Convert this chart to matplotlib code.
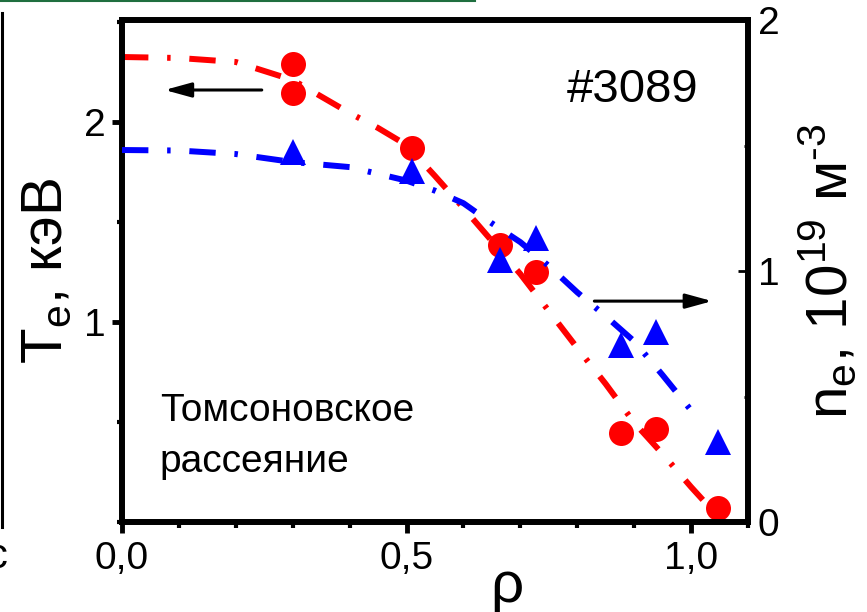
import matplotlib
matplotlib.use("Agg")
import matplotlib.pyplot as plt
from matplotlib.ticker import FixedLocator, FixedFormatter, MultipleLocator
from matplotlib.lines import Line2D

plt.rcParams['font.family'] = ['Liberation Sans', 'DejaVu Sans']
plt.rcParams['mathtext.fontset'] = 'custom'
plt.rcParams['mathtext.rm'] = 'Liberation Sans'
plt.rcParams['mathtext.it'] = 'Liberation Sans:italic'
plt.rcParams['mathtext.bf'] = 'Liberation Sans:bold'
plt.rcParams['lines.scale_dashes'] = False

# Thomson scattering, shot #3089: electron temperature (keV)
rho_te = [0.30, 0.30, 0.51, 0.665, 0.728, 0.877, 0.938, 1.047]
te_vals = [2.29, 2.145, 1.87, 1.385, 1.25, 0.445, 0.465, 0.07]

# electron density (10^19 m^-3)
rho_ne = [0.30, 0.51, 0.665, 0.728, 0.877, 0.938, 1.047]
ne_vals = [1.474, 1.40, 1.044, 1.13, 0.705, 0.757, 0.32]

# fitted profiles
rho_te_fit = [0.0, 0.1, 0.2, 0.3, 0.4, 0.45, 0.5, 0.55, 0.6, 0.65, 0.7,
              0.75, 0.8, 0.85, 0.9, 0.95, 1.0, 1.04]
te_fit = [2.325, 2.32, 2.30, 2.21, 2.045, 1.97, 1.885, 1.73, 1.57, 1.405,
          1.24, 1.055, 0.87, 0.69, 0.497, 0.34, 0.175, 0.05]

rho_ne_fit = [0.0, 0.1, 0.2, 0.3, 0.4, 0.5, 0.55, 0.6, 0.65, 0.7, 0.75,
              0.8, 0.85, 0.9, 0.95, 1.0]
ne_fit = [1.482, 1.48, 1.466, 1.434, 1.414, 1.36, 1.32, 1.27, 1.19, 1.115,
          1.02, 0.915, 0.82, 0.72, 0.585, 0.445]

x_ticks = [0.0, 0.5, 1.0]
x_tick_labels = ['0,0', '0,5', '1,0']
te_ticks = [1, 2]
te_tick_labels = ['1', '2']
ne_ticks = [0, 1, 2]
ne_tick_labels = ['0', '1', '2']

method_lines = ['Томсоновское', 'рассеяние']

RED = '#ff0000'
BLUE = '#0000ff'
DASHDOT = (0, (19, 13.5, 2.5, 13.5))

fig = plt.figure(figsize=(8.67, 6.12), dpi=100)
ax = fig.add_axes([122 / 867, 1 - 522 / 612, 626 / 867, 502 / 612])
ax2 = ax.twinx()

# temperature profile (left axis)
ax.plot(rho_te_fit, te_fit, color=RED, lw=4.3, linestyle=DASHDOT,
        dash_capstyle='butt')
ax.plot(rho_te, te_vals, linestyle='none', marker='o', ms=18,
        mfc=RED, mec=RED, mew=0)

# density profile (right axis)
ax2.plot(rho_ne_fit, ne_fit, color=BLUE, lw=4.3, linestyle=DASHDOT,
         dash_capstyle='butt')
ax2.plot(rho_ne, ne_vals, linestyle='none', marker='^', ms=19,
         mfc=BLUE, mec=BLUE, mew=0)

ax.set_xlim(0, 1.1)
ax.set_ylim(0, 2.51)
ax2.set_ylim(0, 2.0)

ax.xaxis.set_major_locator(FixedLocator(x_ticks))
ax.xaxis.set_major_formatter(FixedFormatter(x_tick_labels))
ax.xaxis.set_minor_locator(MultipleLocator(0.1))
ax.yaxis.set_major_locator(FixedLocator(te_ticks))
ax.yaxis.set_major_formatter(FixedFormatter(te_tick_labels))
ax.yaxis.set_minor_locator(MultipleLocator(0.5))
ax2.yaxis.set_major_locator(FixedLocator(ne_ticks))
ax2.yaxis.set_major_formatter(FixedFormatter(ne_tick_labels))
ax2.yaxis.set_minor_locator(FixedLocator([0.5, 1.5]))

for sp in ax.spines.values():
    sp.set_linewidth(4.3)
    sp.set_capstyle('projecting')
for sp in ax2.spines.values():
    sp.set_visible(False)

ax.tick_params(axis='x', which='major', direction='out', length=8, width=3.5,
               labelsize=28, pad=6)
ax.tick_params(axis='x', which='minor', direction='out', length=4, width=3)
ax.tick_params(axis='y', which='major', direction='out', length=7, width=3.5,
               labelsize=28, pad=5)
ax.tick_params(axis='y', which='minor', direction='out', length=3.6, width=3)
ax.tick_params(which='both', top=False, right=False)
ax2.tick_params(axis='y', which='major', direction='in', length=7, width=2,
                labelsize=28, pad=7)
ax2.tick_params(axis='y', which='minor', direction='in', length=3, width=2)

ax.set_xlabel('ρ', fontsize=42, va='baseline')
ax.xaxis.set_label_coords(0.615, -0.159)
ax.set_ylabel(r'T$_{\rm e}$, кэВ', fontsize=42, va='baseline')
ax.yaxis.set_label_coords(-0.0958, 0.5)
ax2.set_ylabel('n$_{\\rm e}$, 10$^{19}$ м$^{\u2010 3}$', fontsize=42,
               rotation=90, va='baseline')
ax2.yaxis.set_label_coords(1.158, 0.5)

ax.text(0.782, 2.10, '#3089', fontsize=34, ha='left', va='baseline')
ax.text(0.0667, 0.505, method_lines[0], fontsize=28, ha='left', va='baseline')
ax.text(0.0667, 0.25, method_lines[1], fontsize=28, ha='left', va='baseline')

# arrows pointing to the axis each profile belongs to
ax.annotate('', xy=(0.075, 2.16), xytext=(0.2456, 2.16),
            arrowprops=dict(arrowstyle='-|>,head_length=0.8,head_width=0.22',
                            lw=2.2, color='black', mutation_scale=20,
                            shrinkA=0, shrinkB=0))
ax2.annotate('', xy=(1.037, 0.88), xytext=(0.83, 0.88),
             arrowprops=dict(arrowstyle='-|>,head_length=0.8,head_width=0.22',
                             lw=2.2, color='black', mutation_scale=20,
                             shrinkA=0, shrinkB=0))

# edge of the neighbouring panel
fig.add_artist(Line2D([1.5 / 867, 1.5 / 867], [1 - 13 / 612, 1 - 527 / 612],
                      transform=fig.transFigure, color='black', lw=2.2))
fig.add_artist(Line2D([0, 475 / 867], [1 - 1 / 612, 1 - 1 / 612],
                      transform=fig.transFigure, color='#1f6f3f', lw=1.5))
fig.text(-14 / 867, (612 - 568) / 612, 'c', fontsize=30, ha='left',
         va='baseline')

fig.savefig('out.png', dpi=100, facecolor='white')
